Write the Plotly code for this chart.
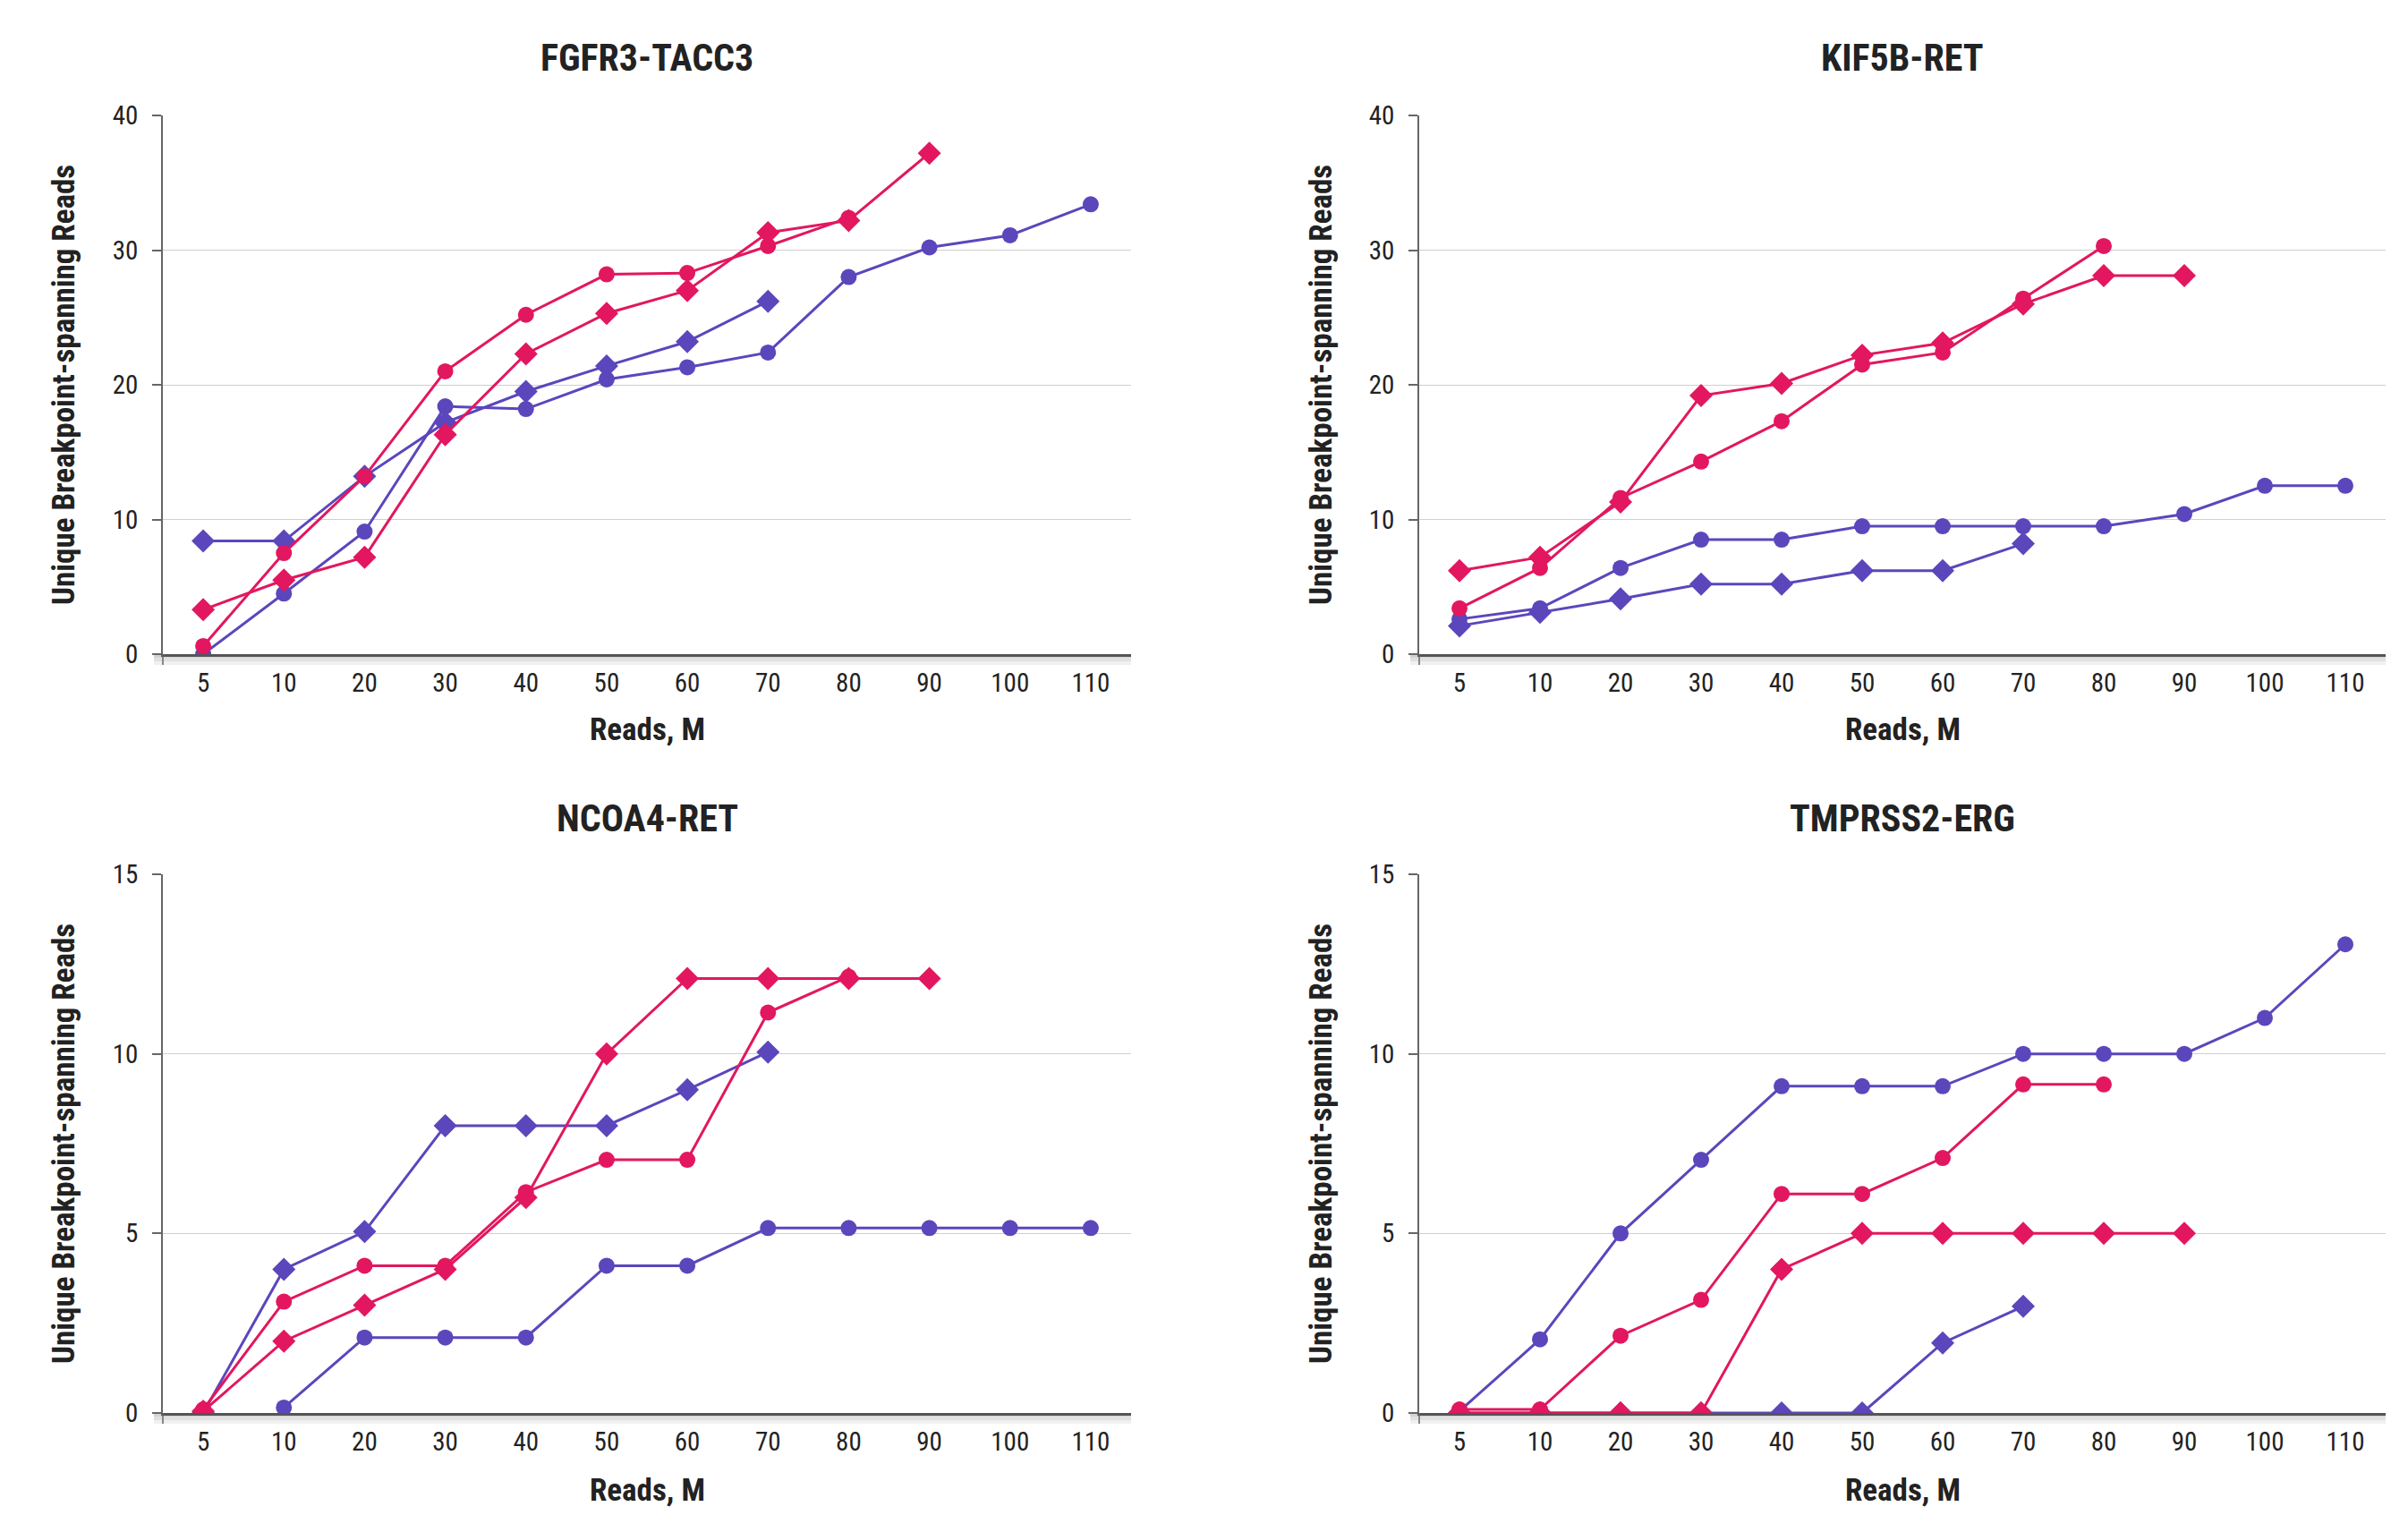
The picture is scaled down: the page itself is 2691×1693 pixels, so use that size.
import plotly.graph_objects as go

W, H = 2691, 1693

categories = ["5", "10", "20", "30", "40", "50", "60", "70", "80", "90", "100", "110"]

# FGFR3-TACC3
fgfr3_purple_circle = [0, 4.5, 9.1, 18.4, 18.2, 20.4, 21.3, 22.4, 28.0, 30.2, 31.1, 33.4]
fgfr3_purple_diamond = [8.4, 8.4, 13.2, 17.2, 19.5, 21.4, 23.2, 26.2, None, None, None, None]
fgfr3_pink_circle = [0.6, 7.5, 13.2, 21.0, 25.2, 28.2, 28.3, 30.3, 32.4, None, None, None]
fgfr3_pink_diamond = [3.3, 5.5, 7.2, 16.3, 22.3, 25.3, 27.0, 31.3, 32.2, 37.2, None, None]

# KIF5B-RET
kif5b_purple_circle = [2.6, 3.4, 6.4, 8.5, 8.5, 9.5, 9.5, 9.5, 9.5, 10.4, 12.5, 12.5]
kif5b_purple_diamond = [2.1, 3.1, 4.1, 5.2, 5.2, 6.2, 6.2, 8.2, None, None, None, None]
kif5b_pink_circle = [3.4, 6.4, 11.6, 14.3, 17.3, 21.5, 22.4, 26.4, 30.3, None, None, None]
kif5b_pink_diamond = [6.2, 7.2, 11.3, 19.2, 20.1, 22.2, 23.1, 26.0, 28.1, 28.1, None, None]

# NCOA4-RET
ncoa4_purple_circle = [None, 0.15, 2.1, 2.1, 2.1, 4.1, 4.1, 5.15, 5.15, 5.15, 5.15, 5.15]
ncoa4_purple_diamond = [0, 4.0, 5.05, 8.0, 8.0, 8.0, 9.0, 10.05, None, None, None, None]
ncoa4_pink_circle = [0.1, 3.1, 4.1, 4.1, 6.15, 7.05, 7.05, 11.15, 12.15, None, None, None]
ncoa4_pink_diamond = [0.05, 2.0, 3.0, 4.0, 6.0, 10.0, 12.1, 12.1, 12.1, 12.1, None, None]

# TMPRSS2-ERG
tmprss2_purple_circle = [0.05, 2.05, 5.0, 7.05, 9.1, 9.1, 9.1, 10.0, 10.0, 10.0, 11.0, 13.05]
tmprss2_purple_diamond = [0, 0, 0, 0, 0, 0, 1.95, 2.97, None, None, None, None]
tmprss2_pink_circle = [0.1, 0.1, 2.15, 3.15, 6.1, 6.1, 7.1, 9.15, 9.15, None, None, None]
tmprss2_pink_diamond = [0, 0, 0, 0, 4.0, 5.0, 5.0, 5.0, 5.0, 5.0, None, None]

titles = ["FGFR3-TACC3", "KIF5B-RET", "NCOA4-RET", "TMPRSS2-ERG"]
y_max = [40, 40, 15, 15]
y_dtick = [10, 10, 5, 5]
x_title = "Reads, M"
y_title = "Unique Breakpoint-spanning Reads"

PURPLE = "#5C46BC"
PINK = "#E2175F"
COND = "Roboto Condensed, Liberation Sans Narrow, Arial Narrow, Roboto, sans-serif"

panels = [
    [fgfr3_purple_circle, fgfr3_purple_diamond, fgfr3_pink_circle, fgfr3_pink_diamond],
    [kif5b_purple_circle, kif5b_purple_diamond, kif5b_pink_circle, kif5b_pink_diamond],
    [ncoa4_purple_circle, ncoa4_purple_diamond, ncoa4_pink_circle, ncoa4_pink_diamond],
    [tmprss2_purple_circle, tmprss2_purple_diamond, tmprss2_pink_circle, tmprss2_pink_diamond],
]
styles = [(PURPLE, "circle", 18), (PURPLE, "diamond", 20), (PINK, "circle", 18), (PINK, "diamond", 20)]

# pixel layout
xcols = [(182, 1264), (1586, 2666)]
yrows = [(129, 731), (977, 1579)]
title_y = [65, 914]
xtitle_y = [815, 1665]
ytitle_x = [71, 1476]

fig = go.Figure()
layout = dict(width=W, height=H, margin=dict(l=0, r=0, t=0, b=0, autoexpand=False),
              paper_bgcolor="white", plot_bgcolor="white", showlegend=False,
              annotations=[], shapes=[])

for i in range(4):
    r, c = divmod(i, 2)
    ax = "" if i == 0 else str(i + 1)
    x0, x1 = xcols[c]
    ytop, ybot = yrows[r]
    for vals, (col, sym, sz) in zip(panels[i], styles):
        fig.add_trace(go.Scatter(
            x=categories, y=vals, mode="lines+markers",
            line=dict(color=col, width=3),
            marker=dict(color=col, symbol=sym, size=sz),
            xaxis="x" + ax, yaxis="y" + ax, connectgaps=False,
        ))
    layout["xaxis" + ax] = dict(
        domain=[x0 / W, x1 / W], anchor="y" + ax, type="category",
        categoryorder="array", categoryarray=categories, range=[-0.5, 11.5],
        showgrid=False, showline=True, linecolor="#555555", linewidth=2.5,
        ticks="", ticklabelstandoff=4, automargin=False,
        tickfont=dict(family=COND, size=29, color="#222222"), zeroline=False,
    )
    layout["yaxis" + ax] = dict(
        domain=[1 - ybot / H, 1 - ytop / H], anchor="x" + ax,
        range=[0, y_max[i]], dtick=y_dtick[i], tick0=0,
        showgrid=True, gridcolor="#cfcfcf", gridwidth=1,
        showline=True, linecolor="#666666", linewidth=1.5,
        ticks="outside", ticklen=10, tickcolor="#666666", tickwidth=1.5,
        ticklabelstandoff=10, automargin=False,
        tickfont=dict(family=COND, size=29, color="#222222"), zeroline=False,
    )
    cx = (x0 + x1) / 2 / W
    layout["annotations"].append(dict(
        text="<b>" + titles[i] + "</b>", x=cx, y=1 - title_y[r] / H, xref="paper", yref="paper",
        showarrow=False, xanchor="center", yanchor="middle",
        font=dict(family=COND, size=42, color="#222222")))
    layout["annotations"].append(dict(
        text="<b>" + x_title + "</b>", x=cx, y=1 - xtitle_y[r] / H, xref="paper", yref="paper",
        showarrow=False, xanchor="center", yanchor="middle",
        font=dict(family=COND, size=35, color="#222222")))
    layout["annotations"].append(dict(
        text="<b>" + y_title + "</b>", x=ytitle_x[c] / W, y=1 - (ytop + ybot) / 2 / H,
        xref="paper", yref="paper", textangle=-90,
        showarrow=False, xanchor="center", yanchor="middle",
        font=dict(family=COND, size=35, color="#222222")))
    # shadow under the x axis line
    h = ybot - ytop
    for k in (4, 8, 12):
        layout["shapes"].append(dict(
            type="rect", xref="x" + ax + " domain", yref="y" + ax + " domain",
            x0=-10 / (x1 - x0), x1=1, y0=-k / h, y1=0,
            fillcolor="rgba(0,0,0,0.06)", line=dict(width=0), layer="below"))
    # y axis line extension below the x axis
    layout["shapes"].append(dict(
        type="line", xref="x" + ax + " domain", yref="y" + ax + " domain",
        x0=0, x1=0, y0=-12 / h, y1=0, line=dict(color="#666666", width=1.5)))

fig.update_layout(**layout)
fig.write_html(
    "out.html",
    config={"displayModeBar": False},
    post_script="document.body.style.margin='0';document.body.style.overflow='hidden';",
)
